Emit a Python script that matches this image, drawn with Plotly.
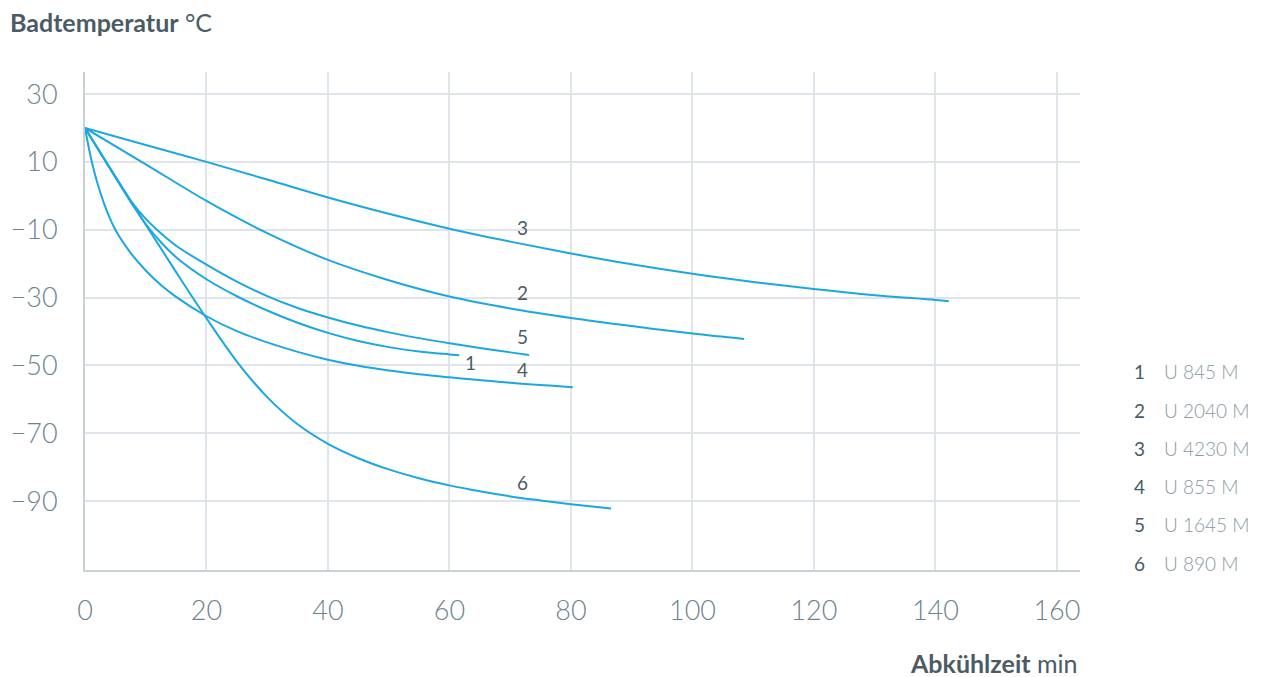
import plotly.graph_objects as go

# cooling curves (time in min, bath temperature in °C)
x1 = [0, 3, 6, 8, 10, 12.5, 15, 20, 25, 30, 35, 40, 45, 50, 55, 60, 61.6]
t1 = [20, 11.3, 2.6, -3.1, -8.3, -13.7, -18.1, -24.6, -29.6, -33.8, -37.4, -40.4, -42.8, -44.6, -45.9,
      -46.75, -47]

x2 = [0, 10, 20, 30, 40, 50, 60, 70, 80, 90, 100, 108.5]
t2 = [20, 9.3, -1.5, -11, -18.9, -24.9, -29.7, -33.2, -36, -38.4, -40.6, -42.2]

x3 = [0, 10, 20, 30, 40, 50, 60, 70, 80, 90, 100, 110, 120, 130, 140, 142.2]
t3 = [20, 15, 10, 4.8, -0.5, -5.3, -9.7, -13.5, -17, -20.2, -23, -25.4, -27.5, -29.3, -30.7, -31.1]

x4 = [0, 1, 2, 3.5, 5, 7.5, 10, 12.5, 15, 20, 25, 30, 35, 40, 45, 50, 55, 60, 70, 80.3]
t4 = [20, 11, 4, -4, -10, -16.8, -22, -26.3, -29.8, -35.5, -39.9, -43.2, -46, -48.3, -50.1, -51.5,
      -52.6, -53.5, -55.1, -56.4]

x5 = [0, 3, 6, 8, 10, 12.5, 15, 20, 25, 30, 35, 40, 45, 50, 55, 60, 65, 70, 73.1]
t5 = [20, 11.3, 2.6, -2.6, -6.8, -11.05, -14.7, -20.3, -25.3, -29.55, -33.05, -35.85, -38.25, -40.25,
      -41.95, -43.45, -44.85, -46.15, -46.9]

x6 = [0, 5, 10, 15, 20, 25, 30, 35, 40, 45, 50, 55, 60, 65, 70, 75, 80, 86.6]
t6 = [20, 5.7, -8.5, -22.5, -36.1, -48.85, -59.35, -67.35, -73.1, -77.35, -80.65, -83.25, -85.35,
      -87.1, -88.6, -89.8, -90.9, -92.2]

curve_ids = ['1', '2', '3', '4', '5', '6']
models = ['U 845 M', 'U 2040 M', 'U 4230 M', 'U 855 M', 'U 1645 M', 'U 890 M']

# label positions next to the curves
label_x = [63.5, 72.1, 72.1, 72.1, 72.1, 72.1]
label_y = [-49.1, -28.5, -9.4, -51.2, -41.5, -84.4]

x_ticks = [0, 20, 40, 60, 80, 100, 120, 140, 160]
y_ticks = [30, 10, -10, -30, -50, -70, -90]

line_color = '#1ba8e0'
grid_color = '#dfe5ea'
axis_color = '#c8d1d8'
tick_color = '#6f838f'
dark_text = '#4b5b65'
font_family = 'Lato, Open Sans, sans-serif'

fig = go.Figure()
for xs, ts in [(x1, t1), (x2, t2), (x3, t3), (x4, t4), (x5, t5), (x6, t6)]:
    fig.add_trace(go.Scatter(
        x=xs, y=ts, mode='lines',
        line=dict(color=line_color, width=2, shape='spline', smoothing=1.0),
        showlegend=False, hoverinfo='skip'
    ))

for cid, lx, ly in zip(curve_ids, label_x, label_y):
    fig.add_annotation(x=lx, y=ly, text=cid, showarrow=False,
                       font=dict(family=font_family, size=19, color=dark_text))

# legend block on the right
for i, (cid, name) in enumerate(zip(curve_ids, models)):
    yy = 372 + i * 38.2
    fig.add_annotation(xref='paper', yref='paper', x=(1139 - 85) / 995,
                       y=(570 - yy) / 498, text=cid, showarrow=False,
                       xanchor='center', yanchor='middle',
                       font=dict(family=font_family, size=19, color=dark_text))
    fig.add_annotation(xref='paper', yref='paper', x=(1162 - 85) / 995,
                       y=(570 - yy) / 498, text=name, showarrow=False,
                       xanchor='left', yanchor='middle',
                       font=dict(family=font_family, size=19, color='#8a9aa4', weight=300))

fig.add_annotation(xref='paper', yref='paper', x=(8 - 85) / 995, y=(570 - 22) / 498,
                   text='<b>Badtemperatur</b> °C', showarrow=False,
                   xanchor='left', yanchor='middle',
                   font=dict(family=font_family, size=25, color=dark_text))
fig.add_annotation(xref='paper', yref='paper', x=1.0, y=(570 - 663) / 498,
                   text='<b>Abkühlzeit</b> min', showarrow=False,
                   xanchor='right', yanchor='middle',
                   font=dict(family=font_family, size=25, color=dark_text))

fig.update_xaxes(
    range=[0, 163.8], tickvals=x_ticks, showgrid=True, gridcolor=grid_color,
    gridwidth=1.5, zeroline=False, showline=True, linecolor=axis_color, linewidth=2,
    tickfont=dict(family=font_family, size=27, color=tick_color, weight=300),
    ticklabelstandoff=16, fixedrange=True
)
fig.update_yaxes(
    range=[-110.3, 36.5], tickvals=y_ticks, showgrid=True, gridcolor=grid_color,
    gridwidth=1.5, zeroline=False, showline=True, linecolor=axis_color, linewidth=2,
    tickfont=dict(family=font_family, size=27, color=tick_color, weight=300),
    ticklabelstandoff=20, fixedrange=True
)

fig.update_layout(
    width=1272, height=677,
    margin=dict(l=85, r=192, t=72, b=107, autoexpand=False),
    plot_bgcolor='white', paper_bgcolor='white',
    font=dict(family=font_family)
)

# drop the default body margin so the figure sits at the page corner
fig.write_html("out.html", config={'displayModeBar': False},
               post_script="document.body.style.margin='0';document.body.style.overflow='hidden';")
